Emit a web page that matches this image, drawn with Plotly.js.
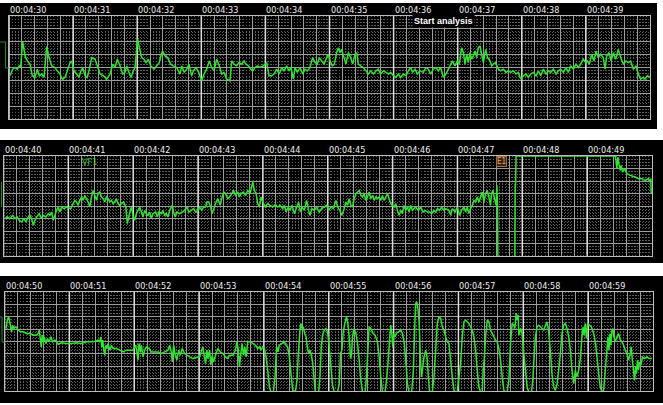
<!DOCTYPE html>
<html>
<head>
<meta charset="utf-8">
<script src="https://cdn.plot.ly/plotly-3.0.1.min.js"></script>
<style>html,body{margin:0;padding:0;background:#fff;}#chart{width:663px;height:405px;}</style>
</head>
<body>
<div id="chart"></div>
<script>
// ---------- DATA (time in s from strip start, amplitude in grid divisions) ----------
const strip1Labels = ["00:04:30","00:04:31","00:04:32","00:04:33","00:04:34","00:04:35","00:04:36","00:04:37","00:04:38","00:04:39"];
const strip2Labels = ["00:04:40","00:04:41","00:04:42","00:04:43","00:04:44","00:04:45","00:04:46","00:04:47","00:04:48","00:04:49"];
const strip3Labels = ["00:04:50","00:04:51","00:04:52","00:04:53","00:04:54","00:04:55","00:04:56","00:04:57","00:04:58","00:04:59"];
const labelSeconds = [0,1,2,3,4,5,6,7,8,9];

const strip1Time = [
0.016,0.057,0.094,0.13,0.161,0.182,0.213,0.25,0.286,0.328,
0.364,0.406,0.442,0.473,0.51,0.546,0.588,0.624,0.666,0.718,
0.754,0.796,0.832,0.874,0.91,0.952,0.978,1.014,1.056,1.092,
1.123,1.149,1.186,1.222,1.253,1.29,1.342,1.378,1.42,1.472,
1.524,1.576,1.617,1.654,1.69,1.732,1.773,1.81,1.836,1.862,
1.903,1.94,1.966,2.007,2.033,2.07,2.106,2.137,2.174,2.21,
2.262,2.304,2.345,2.376,2.397,2.434,2.475,2.522,2.564,2.616,
2.668,2.694,2.735,2.772,2.808,2.85,2.876,2.917,2.959,3.006,
3.042,3.084,3.125,3.162,3.198,3.24,3.281,3.318,3.354,3.396,
3.448,
3.474,3.51,3.552,3.588,3.63,3.666,3.698,3.734,3.771,3.802,
3.838,3.875,3.917,3.968,4.02,4.056,4.098,4.134,4.176,4.217,
4.254,4.29,4.332,4.368,4.399,4.436,4.462,4.498,4.54,4.581,
4.618,4.654,4.696,4.737,4.774,4.81,4.841,4.878,4.914,4.956,
4.982,5.008,5.044,5.075,5.112,5.138,5.164,5.19,5.226,5.257,
5.294,5.33,5.361,5.398,5.424,5.45,5.486,5.528,5.569,5.606,
5.642,5.684,5.726,5.762,5.798,5.84,5.882,5.918,5.954,5.996,
6.037,6.074,6.11,6.152,6.193,6.23,6.266,6.297,6.334,6.37,
6.412,6.464,6.505,6.542,6.578,6.62,6.661,6.698,6.734,6.776,
6.817,6.854,6.88,
6.916,6.958,6.994,7.025,7.062,7.088,7.114,7.14,7.166,7.192,
7.218,7.244,7.27,7.296,7.322,7.348,7.374,7.4,7.436,7.467,
7.504,7.53,7.556,7.592,7.634,7.67,7.712,7.754,7.79,7.826,
7.868,7.91,7.946,7.982,8.024,8.066,8.102,8.138,8.18,8.222,
8.258,8.294,8.336,8.378,8.414,8.45,8.492,8.534,8.57,8.606,
8.648,8.69,8.726,8.762,8.804,8.846,8.882,8.918,8.96,8.996,
9.022,9.054,9.09,9.126,9.158,9.194,9.23,9.272,9.298,9.324,
9.36,9.392,9.428,9.464,9.506,9.542,9.584,9.626,9.662,9.698,
9.74,9.782,9.818,9.854,9.896,9.922,9.958,10.0
];
const strip1Value = [
-0.64,-0.13,0,-0.13,0.13,0,2.05,0.9,0.51,0.26,
-0.64,-0.77,-0.13,-0.64,-0.51,-0.77,1.62,0.77,0.13,0,
-0.26,-0.51,-0.9,-0.77,-0.26,0.38,0.51,-0.26,-0.51,-0.77,
-0.26,0,-0.64,-0.77,-0.13,0.77,0.64,0.13,-0.51,-0.64,
-0.9,-0.51,0.26,0,0.64,0.13,-0.51,-0.38,0.13,-0.26,
-0.77,-0.26,0,2.23,1.54,0.77,0.64,0.38,0.64,0.13,
-0.13,0.13,0.38,1.03,1.28,0.9,0.77,0.26,0.13,0,
-0.51,0.13,-0.38,-0.13,0.26,-0.64,-0.26,0,-0.38,-1.03,
-0.51,-0.13,0.51,0,-0.26,0.64,0.13,-0.51,-0.38,-0.9,
-1.03,
0.51,0.26,0.13,0.38,0.26,0.51,0.26,0.13,-0.13,-0.26,
0,0.13,0,0.13,0.38,-0.64,-0.64,-0.51,-0.13,-0.51,
0,-0.26,0.13,-0.26,0,-0.9,0,-0.38,0,-0.51,
-0.13,-0.26,0,0.77,0.38,0.26,0.77,0.51,0.26,0.77,
1.03,0.51,0.13,0.26,1.15,1.54,1.15,1.41,0.77,0.26,
1.15,0.77,0.26,1.03,1.15,0.26,0.13,0,-0.26,-0.51,
-0.26,-0.51,-0.26,-0.13,-0.51,-0.26,-0.38,-0.51,-0.38,-0.64,
-0.77,-0.51,-0.77,-0.51,-0.64,-0.26,0,-0.38,-0.13,-0.51,
-0.26,-0.38,0,-0.13,-0.51,-0.13,0,-0.26,0,-0.77,
-0.51,-0.13,0.13,
0.51,0.13,0.51,0.26,1.54,1.15,0.26,1.03,0.38,1.15,
0.64,0.9,1.28,0.77,1.54,1.67,1.03,0.38,1.41,0.77,
0.51,0.13,0.26,0.38,-0.13,-0.26,-0.13,-0.38,-0.26,-0.38,
-0.26,-0.51,-0.38,-0.9,-0.64,-0.51,-0.77,-0.51,-0.38,-0.64,
-0.26,-0.64,-0.13,-0.51,-0.26,-0.38,-0.13,-0.51,-0.26,-0.13,
-0.38,0,-0.38,0.13,-0.13,0.26,0,0.26,0.64,0.38,
0.51,0.26,1.03,0.51,1.28,0.77,1.03,0.77,-0.13,0.9,
1.15,0.51,1.15,0.64,1.41,0.77,0.26,0.51,0.38,0.51,
-0.13,0.13,-0.51,-0.9,-0.77,-0.9,-0.64,-0.77
];

const strip2Time = [
0.023,0.059,0.1,0.141,0.177,0.213,0.244,0.279,0.315,0.346,
0.382,0.408,0.433,0.459,0.485,0.51,0.551,0.587,0.613,0.654,
0.69,0.715,0.741,0.767,0.792,0.818,0.844,0.869,0.895,0.931,
0.972,1.008,1.038,1.074,1.1,1.126,1.151,1.177,1.203,1.228,
1.254,1.279,1.305,1.331,1.356,1.382,1.408,1.433,1.459,1.485,
1.51,1.536,1.562,1.587,1.613,1.638,1.664,1.69,1.715,1.741,
1.767,1.792,1.818,1.854,1.885,1.91,1.936,1.972,1.997,2.023,
2.049,2.074,2.1,2.126,2.151,2.177,2.203,2.228,2.254,2.279,
2.305,2.346,2.372,2.397,2.433,2.459,2.485,2.51,2.536,2.562,
2.603,2.623,2.649,2.674,2.715,2.756,2.792,2.828,2.859,2.895,
2.931,2.962,2.997,3.023,3.059,3.085,3.115,3.136,3.167,3.192,
3.218,3.244,3.279,3.305,3.341,3.372,3.397,3.423,3.459,3.485,
3.521,3.546,3.577,3.613,3.638,3.664,3.7,3.731,3.767,3.803,
3.844,3.869,3.895,3.921,3.946,3.972,3.997,4.038,4.074,4.11,
4.151,4.192,4.228,4.264,4.305,4.331,4.356,4.392,4.418,4.449,
4.485,4.521,4.551,4.577,4.603,4.638,4.674,4.705,4.726,4.756,
4.792,4.828,4.869,4.905,4.946,4.982,5.013,5.049,5.085,5.126,
5.151,5.187,5.218,5.254,5.279,5.305,5.331,5.356,5.382,5.408,
5.433,5.459,5.485,5.51,5.536,5.562,5.587,5.613,5.638,5.664,
5.69,5.715,5.741,5.767,5.792,5.818,5.844,5.869,5.895,5.921,
5.946,5.972,5.997,6.023,6.049,6.074,6.1,6.126,6.151,6.177,
6.203,6.228,6.254,6.279,6.305,6.331,6.356,6.397,6.433,6.469,
6.5,6.536,6.572,6.603,6.638,6.664,6.69,6.726,6.756,6.792,
6.818,6.869,
6.895,6.921,6.962,6.997,7.033,7.064,7.1,7.126,7.151,7.177,
7.203,7.228,7.254,7.279,7.305,7.331,7.356,7.382,7.408,7.433,
7.459,7.485,7.51,7.526,7.546,7.572,7.597,7.608,7.618,7.623,
7.885,7.89,7.895,7.905,9.433,9.444,9.459,9.474,9.49,9.51,
9.526,9.546,9.577,9.613,9.664,9.741,9.792,9.844,9.895,9.946,
9.972,9.982,9.987
];
const strip2Value = [
-1.01,-0.88,-1.01,-0.75,-1.01,-0.88,-1.15,-1.28,-1.01,-1.28,
-0.88,-0.75,-1.01,-1.55,-1.15,-0.88,-0.61,-1.01,-0.75,-0.88,
-0.61,-0.75,-0.48,-1.15,-0.75,-0.35,-0.08,-0.48,-0.08,-0.21,
-0.08,-0.16,-0.21,0.19,0.45,0.32,0.05,0.45,0.72,0.45,
0.85,0.59,0.32,-0.08,0.72,1.25,0.85,0.45,0.99,1.12,
0.72,0.59,0.32,0.72,0.59,0.32,0.45,0.19,0.32,0.59,
0.19,0.05,0.19,0.32,-0.08,-1.41,-0.75,-0.08,-0.75,-1.15,
-0.61,-0.35,-0.08,-0.48,-0.88,-0.35,-0.61,-0.75,-0.48,-1.01,
-0.61,-0.48,-0.88,-0.48,-0.61,-0.35,-0.75,-0.61,-0.88,-0.35,
0.05,-0.48,-0.88,-0.48,-0.61,-0.48,-0.35,-0.08,-0.48,-0.35,
-0.21,-0.48,-0.35,-0.08,-0.35,-0.08,-0.08,0.32,0.32,-0.08,
-0.61,-0.21,0.32,0.59,0.05,0.72,1.12,0.99,0.59,0.72,
0.99,1.25,0.85,1.12,0.72,0.99,1.12,0.85,1.25,0.99,
1.92,1.25,0.99,0.19,-0.08,0.72,0.32,-0.08,0.19,0.05,
-0.08,0.11,-0.08,0.05,-0.21,0.05,-0.48,-0.08,-0.35,0.05,
-0.61,-0.08,0.32,-0.48,-0.08,-0.35,0.45,-0.35,-0.75,-0.21,
-0.35,-0.08,-0.48,-0.21,-0.08,0.05,-0.35,-0.08,-0.21,0.45,
-0.08,-0.35,-0.75,-0.21,0.32,0.05,0.59,0.05,-0.08,0.59,
0.99,1.12,1.25,0.85,0.72,0.99,0.45,0.72,1.12,0.59,
0.85,0.45,0.72,0.59,0.72,0.45,0.85,0.45,0.72,0.99,
0.59,0.19,0.05,-0.08,0.19,-0.35,-0.75,-0.35,-0.61,0.05,
-0.35,-0.08,-0.48,0.05,-0.35,-0.21,-0.08,-0.35,-0.08,-0.48,
-0.35,-0.48,-0.48,-0.61,-0.35,-0.48,-0.21,-0.35,-0.08,-0.35,
-0.21,-0.35,
-0.75,-0.21,-0.48,-0.08,-0.75,-0.35,-0.08,-0.48,-0.08,-0.61,
-0.21,0.05,0.45,0.32,0.72,0.32,0.72,1.12,0.32,0.99,
1.25,0.72,0.05,0.99,1.25,0.59,0.05,1.65,-0.08,-4.1,
-4.1,1.65,1.52,4.0,4.0,3.65,2.99,3.92,3.39,2.85,
3.25,2.72,2.99,2.59,2.45,2.32,2.19,2.19,2.05,2.19,
1.92,2.19,0.99
];

const strip3Time = [
0.023,0.044,0.064,0.085,0.11,0.126,0.146,0.177,0.213,0.249,
0.29,0.341,0.392,0.444,0.495,0.521,0.536,0.551,0.567,0.582,
0.597,0.613,0.638,0.664,0.69,0.715,0.741,0.777,0.828,0.879,
0.956,1.033,1.11,1.187,1.264,1.367,1.444,1.469,1.485,1.5,
1.515,1.531,1.546,1.562,1.582,1.597,1.623,1.649,1.674,1.726,
1.777,1.828,1.879,1.931,1.982,2.023,2.044,2.059,2.074,2.095,
2.11,2.136,2.162,2.187,2.228,2.264,2.315,2.367,2.418,2.469,
2.521,2.546,2.572,2.587,2.608,2.633,2.659,2.685,2.71,2.741,
2.777,2.813,2.854,2.905,2.956,3.008,3.033,3.059,3.079,3.1,
3.121,3.136,3.162,3.182,3.203,3.223,3.254,3.29,3.326,3.367,
3.408,3.444,3.469,
3.521,3.562,3.582,3.603,3.623,3.644,3.664,3.685,3.705,3.726,
3.751,3.787,3.828,3.869,3.905,3.931,3.956,3.982,4.008,4.033,
4.059,4.085,4.11,4.146,4.172,4.187,4.197,4.218,4.238,4.279,
4.315,4.341,4.367,4.392,4.418,4.444,4.485,4.51,4.531,4.556,
4.572,4.587,4.608,4.628,4.649,4.674,4.69,4.71,4.731,4.751,
4.772,4.792,4.844,4.864,4.885,4.905,4.931,4.956,4.982,5.008,
5.033,5.059,5.085,5.136,5.162,5.182,5.203,5.223,5.254,5.274,
5.295,5.315,5.336,5.351,5.367,5.387,5.418,5.444,5.469,5.495,
5.521,5.562,5.582,5.603,5.623,5.649,5.685,5.715,5.751,5.777,
5.803,5.828,5.869,5.895,5.921,5.941,5.956,5.972,5.987,6.003,
6.023,6.044,6.074,6.11,6.136,6.162,6.187,6.213,6.238,6.279,
6.305,6.326,6.341,6.356,6.372,6.392,6.413,6.428,6.444,6.469,
6.495,6.515,6.536,6.556,6.597,6.623,6.649,6.674,6.7,6.726,
6.751,6.777,6.803,6.828,6.854,
6.879,6.905,6.931,6.956,6.982,7.008,7.033,7.059,7.085,7.11,
7.136,7.162,7.187,7.213,7.238,7.264,7.29,7.315,7.341,7.367,
7.382,7.397,7.418,7.444,7.469,7.495,7.521,7.546,7.572,7.597,
7.623,7.649,7.674,7.7,7.726,7.751,7.777,7.803,7.828,7.854,
7.869,7.89,7.905,7.921,7.931,7.946,7.962,7.982,8.008,8.033,
8.059,8.085,8.126,8.146,8.167,8.187,8.213,8.238,8.264,8.29,
8.315,8.341,8.367,8.392,8.418,8.444,8.469,8.495,8.521,8.546,
8.572,8.597,8.623,8.649,8.674,8.7,8.726,8.751,8.777,8.803,
8.828,8.854,8.879,8.905,8.921,8.936,8.956,8.972,8.992,9.018,
9.049,9.085,9.11,9.136,9.162,9.187,9.213,9.238,9.264,9.29,
9.305,9.321,9.336,9.351,9.367,9.382,9.397,9.418,9.444,9.469,
9.495,9.521,9.546,9.572,9.597,9.623,9.649,9.664,9.679,9.7,
9.715,9.731,9.746,9.762,9.777,9.792,9.813,9.838,9.869,9.905,
9.941,9.982
];
const strip3Value = [
1.05,1.73,2.0,1.46,0.78,1.32,1.05,1.19,0.92,0.78,
0.78,0.65,0.65,0.51,0.51,0.65,0.92,0.24,-0.43,0.51,
-0.03,0.38,-0.16,0.24,-0.03,0.38,-0.03,0.11,-0.22,-0.11,
-0.16,-0.16,-0.11,-0.16,-0.03,-0.03,0.11,-0.03,0.38,-0.43,
0.11,-0.7,-1.11,-0.3,-0.57,-0.16,-0.7,-0.3,-0.57,-0.57,
-0.7,-0.84,-0.7,-0.7,-0.7,-0.3,-0.97,-1.51,-0.16,-0.84,
-0.3,-1.24,-0.7,-0.43,-0.57,-0.84,-0.84,-0.84,-0.97,-0.84,
-0.7,-0.3,-0.84,-1.65,-0.3,-1.11,-1.51,-0.7,-1.11,-0.57,
-0.97,-1.11,-1.24,-1.38,-1.3,-1.24,-0.84,-0.43,-1.11,-1.78,
-0.7,-1.38,-0.7,-1.92,-1.11,-1.65,-1.11,-0.57,-0.84,-0.97,
-1.24,-1.38,-1.11,
-1.11,-0.7,-0.03,-0.57,-2.05,-0.97,-0.16,-1.11,-0.43,-1.24,
-0.03,-0.03,-0.16,-0.3,-0.57,-0.43,-0.7,-0.43,-0.57,-1.24,
-2.32,-3.68,-4.08,-4.08,-2.86,-1.24,-0.43,-0.84,-0.3,-0.16,
-0.03,-0.3,-0.43,-1.24,-2.59,-3.95,-4.08,-3.14,-0.97,0.92,
1.46,1.05,1.19,0.65,0.38,-0.57,-0.97,-0.7,-1.11,-1.65,
-2.86,-4.08,-4.08,-2.86,-0.43,0.51,0.92,1.05,0.78,-0.43,
-2.05,-3.54,-4.08,-4.08,-3.41,-0.97,-0.7,0.78,1.59,2.0,
1.46,0.38,-1.38,-1.11,0.38,1.05,0.65,-0.16,-1.51,-3.14,
-4.08,-4.08,-2.86,-0.7,1.19,1.05,0.65,0.51,-0.03,-1.24,
-2.86,-4.08,-4.08,-2.86,-1.24,0.38,1.32,0.65,-0.43,0.65,
0.38,0.65,0.78,0.92,0.65,-0.03,-1.51,-3.41,-4.08,-4.08,
-2.32,1.19,3.08,3.22,2.81,1.73,-1.24,-2.86,-2.32,-1.24,
-0.7,-1.24,-2.86,-4.08,-4.08,-2.86,-0.7,1.46,2.0,1.86,
1.19,0.92,0.38,-0.03,-0.16,
-1.51,-2.86,-3.95,-4.08,-4.08,-2.86,-1.78,0.38,1.59,1.73,
1.59,1.46,1.19,0.92,0.38,-0.7,-2.32,-3.68,-4.08,-4.08,
-2.32,-1.51,0.38,1.73,1.59,0.92,0.65,0.38,0.11,-0.03,
-0.57,-1.51,-2.86,-3.95,-4.08,-4.08,-3.14,-0.16,1.46,1.32,
1.05,2.27,1.73,2.14,0.51,0.78,1.05,0.65,-0.97,-2.32,
-3.68,-4.08,-4.08,-3.14,-1.24,0.38,1.19,1.32,1.19,1.05,
0.92,1.32,1.59,0.78,-0.84,-2.73,-3.68,-3.95,-3.41,-2.32,
-0.97,0.65,1.32,1.46,1.05,0.38,-0.7,-2.32,-3.41,-2.32,
-2.86,-2.32,-1.38,0.38,1.19,0.51,1.46,0.24,1.46,1.32,
1.19,0.65,-0.03,-1.24,-2.59,-3.68,-4.08,-3.95,-2.32,-0.7,
0.38,-0.7,0.65,-0.3,0.92,1.05,0.38,-0.03,0.38,0.65,
0.11,-0.03,-0.3,-0.7,-0.97,-1.51,-0.97,-0.43,-1.38,-2.32,
-3.14,-2.05,-2.59,-1.51,-2.32,-1.65,-1.92,-1.24,-1.38,-1.24,
-1.38,-1.38
];

// ---------- LAYOUT GEOMETRY (pixels) ----------
const W = 663, H = 405;
const frames = [
  {l: 9,   r: 650, t: 16,  b: 119},
  {l: 3.5, r: 652, t: 156, b: 256},
  {l: 4.5, r: 653, t: 292, b: 391}
];
const bands = [
  {l: 0, r: 657, t: 3,   b: 129},
  {l: 0, r: 663, t: 140, b: 263},
  {l: 0, r: 663, t: 276, b: 403}
];
const px = x => x / W, py = y => 1 - y / H;

const strips = [
  {t: strip1Time, v: strip1Value, labels: strip1Labels},
  {t: strip2Time, v: strip2Value, labels: strip2Labels},
  {t: strip3Time, v: strip3Value, labels: strip3Labels}
];

const GREEN = '#2ee62e';
const labelFont = {family: '"Liberation Sans Narrow","DejaVu Sans Condensed","Arial Narrow",sans-serif', size: 9, color: '#eeeeee'};

const data = [];
const layout = {
  width: W, height: H,
  margin: {l: 0, r: 0, t: 0, b: 0},
  paper_bgcolor: '#ffffff',
  plot_bgcolor: 'rgba(0,0,0,0)',
  showlegend: false,
  shapes: [],
  annotations: []
};

// black strip backgrounds first
bands.forEach(b => {
  layout.shapes.push({type: 'rect', xref: 'paper', yref: 'paper', layer: 'below',
    x0: px(b.l), x1: px(b.r), y0: py(b.b), y1: py(b.t), fillcolor: '#000000', line: {width: 0}});
});

strips.forEach((s, i) => {
  const f = frames[i];
  const sx = i === 0 ? '' : String(i + 1);
  const xName = 'x' + sx, yName = 'y' + sx;

  layout['xaxis' + sx] = {
    domain: [px(f.l), px(f.r)], anchor: yName, range: [0, 10],
    tickmode: 'linear', tick0: 0, dtick: 0.2, ticks: '', showticklabels: false,
    showgrid: true, gridcolor: '#9c9c9c', gridwidth: 1, zeroline: false,
    showline: true, mirror: true, linecolor: '#bdbdbd', linewidth: 1,
    minor: {tick0: 0, dtick: 0.05, ticks: '', showgrid: true, gridcolor: '#5c5c5c', gridwidth: 1, griddash: '1px,2px'},
    fixedrange: true
  };
  layout['yaxis' + sx] = {
    domain: [py(f.b), py(f.t)], anchor: xName, range: [-4, 4],
    tickmode: 'linear', tick0: 0, dtick: 1, ticks: '', showticklabels: false,
    showgrid: true, gridcolor: '#9c9c9c', gridwidth: 1, zeroline: false,
    showline: true, mirror: true, linecolor: '#bdbdbd', linewidth: 1,
    minor: {tick0: 0, dtick: 0.25, ticks: '', showgrid: true, gridcolor: '#5c5c5c', gridwidth: 1, griddash: '1px,2px'},
    fixedrange: true
  };

  // second marker lines, drawn as a trace under the waveform
  const mx = [], my = [];
  labelSeconds.forEach(sec => { mx.push(sec, sec, null); my.push(-4.3, 4.45, null); });
  data.push({type: 'scatter', mode: 'lines', x: mx, y: my, xaxis: xName, yaxis: yName,
    line: {color: '#dcdcdc', width: 1.5}, cliponaxis: false, hoverinfo: 'skip', connectgaps: false});

  labelSeconds.forEach((sec, k) => {
    layout.annotations.push({text: s.labels[k], x: sec, y: 1, xref: xName, yref: yName + ' domain',
      xanchor: 'left', yanchor: 'bottom', showarrow: false, borderpad: 0, xshift: 0, yshift: 0, font: labelFont});
  });

  data.push({type: 'scatter', mode: 'lines', x: s.t, y: s.v, xaxis: xName, yaxis: yName,
    line: {color: GREEN, width: 1.5, simplify: false}, cliponaxis: false, hoverinfo: 'skip'});
});

// calibration pulses at the left edge of each strip
const calColor = '#1f8f1f';
layout.shapes.push({type: 'path', xref: 'paper', yref: 'paper', line: {color: calColor, width: 1},
  path: `M${px(0)},${py(42)} L${px(5.5)},${py(42)} L${px(5.5)},${py(68)} L${px(9)},${py(68)}`});
layout.shapes.push({type: 'path', xref: 'paper', yref: 'paper', line: {color: calColor, width: 1},
  path: `M${px(1.5)},${py(182)} L${px(1.5)},${py(207)}`});
layout.shapes.push({type: 'path', xref: 'paper', yref: 'paper', line: {color: calColor, width: 1},
  path: `M${px(0)},${py(317)} L${px(2)},${py(317)} L${px(2)},${py(342)} L${px(4.5)},${py(342)}`});

// event annotations
layout.annotations.push({text: '<b>Start analysis</b>', x: 6.28, y: 3.62, xref: 'x', yref: 'y',
  xanchor: 'left', yanchor: 'middle', showarrow: false, bgcolor: '#000000', borderpad: 1,
  font: {family: '"Liberation Sans","DejaVu Sans",sans-serif', size: 9, color: '#ffffff'}});
layout.annotations.push({text: 'VF1', x: 1.2, y: 3.5, xref: 'x2', yref: 'y2',
  xanchor: 'left', yanchor: 'middle', showarrow: false, borderpad: 0,
  font: {family: labelFont.family, size: 9, color: '#33cc33'}});
layout.annotations.push({text: 'E1', x: 7.59, y: 3.55, xref: 'x2', yref: 'y2',
  xanchor: 'left', yanchor: 'middle', showarrow: false, borderpad: 0, bgcolor: '#3a2614',
  bordercolor: '#a86a3a', borderwidth: 1,
  font: {family: labelFont.family, size: 8, color: '#e0a070'}});

Plotly.newPlot('chart', data, layout, {staticPlot: true, displayModeBar: false});
</script>
</body>
</html>
